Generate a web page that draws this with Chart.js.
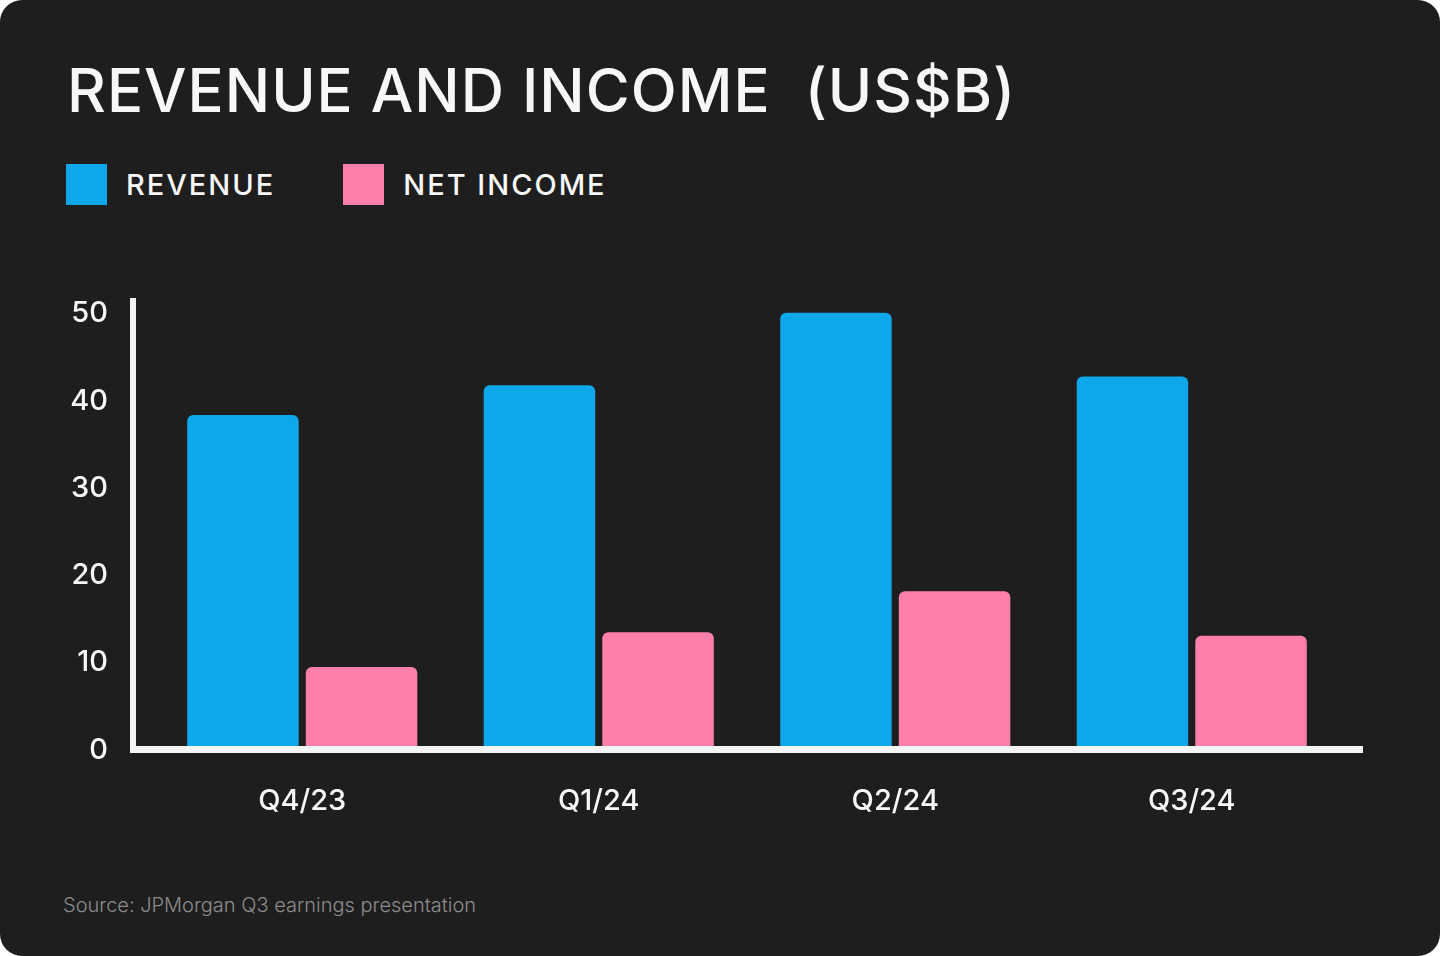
<!DOCTYPE html>
<html>
<head>
<meta charset="utf-8">
<script src="https://cdn.jsdelivr.net/npm/chart.js@4.4.1/dist/chart.umd.min.js"></script>
<style>
  html, body { margin: 0; padding: 0; background: #ffffff; }
  .card {
    position: relative; width: 1440px; height: 956px;
    background: #1e1e1e; border-radius: 22px; overflow: hidden;
    font-family: Inter, "DejaVu Sans", sans-serif; color: #f7f7f7;
  }
  .title {
    position: absolute; left: 67px; top: 60px;
    font-size: 60px; font-weight: 500; line-height: 1; white-space: pre;
    letter-spacing: 1px;
  }
  .legend { position: absolute; left: 66px; top: 164px; display: flex; }
  .legend .item { display: flex; align-items: center; margin-right: 68px; }
  .legend .box { width: 41px; height: 41px; margin-right: 19px; }
  .legend .lbl { font-size: 29px; font-weight: 500; line-height: 1; letter-spacing: 2px; }
  .source {
    position: absolute; left: 63px; top: 895px;
    font-size: 20px; font-weight: 300; line-height: 1; color: #8c8c8c;
  }
  #wrap { position: absolute; left: 0; top: 280px; width: 1440px; height: 570px; }
</style>
</head>
<body>
<div class="card">
  <div class="title">REVENUE AND INCOME  (US$B)</div>
  <div class="legend" id="legend"></div>
  <div id="wrap"><canvas id="chart"></canvas></div>
  <div class="source">Source: JPMorgan Q3 earnings presentation</div>
</div>
<script>
const quarters = ['Q4/23', 'Q1/24', 'Q2/24', 'Q3/24'];
const revenue = [38.4, 41.8, 50.1, 42.8];
const netIncome = [9.5, 13.5, 18.2, 13.1];
const yTicks = [0, 10, 20, 30, 40, 50];

const seriesNames = ['REVENUE', 'NET INCOME'];
const seriesColors = ['#0ea8ea', '#ff7fab'];

// legend built from the series arrays
const legend = document.getElementById('legend');
seriesNames.forEach((name, i) => {
  const item = document.createElement('div');
  item.className = 'item';
  item.innerHTML = '<div class="box" style="background:' + seriesColors[i] + '"></div><div class="lbl">' + name + '</div>';
  legend.appendChild(item);
});

// thick white axis lines, drawn over the bar bottoms
const axisLines = {
  id: 'axisLines',
  afterDatasetsDraw(chart) {
    const { ctx, chartArea } = chart;
    const x0 = chartArea.left - 24;
    const x1 = chartArea.right + 23;
    ctx.save();
    ctx.fillStyle = '#f4f4f4';
    ctx.fillRect(x0, chartArea.top, 6, chartArea.bottom - chartArea.top + 3);
    ctx.fillRect(x0, chartArea.bottom - 4, x1 - x0, 7);
    ctx.restore();
  }
};

const ctx = document.getElementById('chart').getContext('2d');
new Chart(ctx, {
  type: 'bar',
  data: {
    labels: quarters,
    datasets: [
      { label: seriesNames[0], data: revenue, backgroundColor: seriesColors[0] },
      { label: seriesNames[1], data: netIncome, backgroundColor: seriesColors[1] }
    ]
  },
  options: {
    responsive: true,
    maintainAspectRatio: false,
    animation: false,
    layout: { padding: { top: 18, right: 100, bottom: 0, left: 0 } },
    datasets: {
      bar: {
        categoryPercentage: 0.8,
        barPercentage: 0.94,
        borderRadius: { topLeft: 6, topRight: 6 },
        borderSkipped: 'bottom'
      }
    },
    plugins: {
      legend: { display: false },
      tooltip: { enabled: false }
    },
    scales: {
      x: {
        grid: { display: false, drawTicks: false },
        border: { display: false },
        ticks: {
          color: '#f7f7f7',
          padding: 34,
          font: { family: 'Inter', size: 29, weight: '500' }
        },
        afterFit(scale) { scale.height = 100; }
      },
      y: {
        min: 0,
        max: 51.8,
        grid: { display: false, drawTicks: false },
        border: { display: false },
        afterBuildTicks(scale) { scale.ticks = yTicks.map(v => ({ value: v })); },
        ticks: {
          color: '#f7f7f7',
          padding: 46,
          font: { family: 'Inter', size: 29, weight: '500' }
        },
        afterFit(scale) {
          scale.width = 154;
          scale.paddingTop = 0;
          scale.paddingBottom = 0;
        }
      }
    }
  },
  plugins: [axisLines]
});
</script>
</body>
</html>
